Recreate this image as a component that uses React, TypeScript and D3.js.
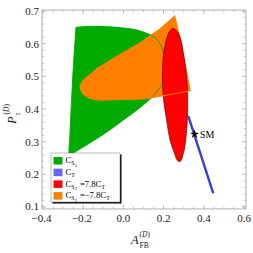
import React from 'react';
import * as d3 from 'd3';

const W = 253;
const H = 253;

const xTicks = [-0.4, -0.2, 0.0, 0.2, 0.4, 0.6];
const yTicks = [0.1, 0.2, 0.3, 0.4, 0.5, 0.6, 0.7];

// C_S2 allowed region (green), [A_FB, P_tau]
const cs2Region: [number, number][] = [
  [-0.236, 0.650], [-0.176, 0.653], [-0.116, 0.653], [-0.05, 0.651], [0.016, 0.647],
  [0.060, 0.643], [0.098, 0.636], [0.135, 0.627], [0.156, 0.619], [0.172, 0.609],
  [0.185, 0.598], [0.197, 0.581], [0.204, 0.563], [0.208, 0.545], [0.210, 0.527],
  [0.208, 0.507], [0.202, 0.489], [0.190, 0.472], [0.172, 0.458], [0.141, 0.435],
  [0.095, 0.410], [0.048, 0.388], [-0.010, 0.362], [-0.067, 0.336], [-0.125, 0.312],
  [-0.183, 0.290], [-0.257, 0.262], [-0.275, 0.235], [-0.268, 0.30], [-0.260, 0.40],
  [-0.252, 0.50], [-0.244, 0.58],
];

// C_S2 = -7.8 C_T region (orange)
const negRegion: [number, number][] = [
  [0.257, 0.688], [0.270, 0.655], [0.282, 0.621], [0.294, 0.586], [0.306, 0.550],
  [0.320, 0.503], [0.335, 0.456], [0.132, 0.433], [0.048, 0.428], [-0.116, 0.425],
  [-0.150, 0.428], [-0.172, 0.432], [-0.192, 0.440], [-0.207, 0.449], [-0.216, 0.460],
  [-0.218, 0.470], [-0.211, 0.481], [-0.198, 0.491], [-0.165, 0.508], [-0.133, 0.525],
  [-0.033, 0.563], [0.083, 0.604], [0.182, 0.647],
];

// C_S2 = 7.8 C_T region (red)
const posRegion: [number, number][] = [
  [0.248, 0.647], [0.272, 0.633], [0.289, 0.605], [0.298, 0.571], [0.309, 0.529],
  [0.318, 0.467], [0.320, 0.412], [0.318, 0.366], [0.310, 0.305], [0.299, 0.265],
  [0.282, 0.239], [0.267, 0.244], [0.252, 0.268], [0.232, 0.305], [0.215, 0.366],
  [0.200, 0.428], [0.194, 0.489], [0.197, 0.550], [0.207, 0.596], [0.219, 0.623],
  [0.232, 0.640],
];

// C_T band (blue)
const ctLine: [number, number][] = [[0.323, 0.378], [0.447, 0.142]];
const smPoint: [number, number] = [0.354, 0.323];

const legendItems = [
  { color: '#00aa00', label: 'cs2' },
  { color: '#6666ff', label: 'ct' },
  { color: '#ff0000', label: 'pos' },
  { color: '#ff8000', label: 'neg' },
];

const FONT = '"Liberation Serif", "DejaVu Serif", serif';

function Cs2({ x, y }: { x: number; y: number }) {
  return (
    <>
      <text x={x} y={y} fontSize={8.5}>C</text>
      <text x={x + 5.8} y={y + 2} fontSize={5.8}>S</text>
      <text x={x + 9.2} y={y + 3.4} fontSize={4.4}>2</text>
    </>
  );
}

function LegendLabel({ kind, x, y }: { kind: string; x: number; y: number }) {
  if (kind === 'cs2') return <Cs2 x={x} y={y} />;
  if (kind === 'ct') {
    return (
      <>
        <text x={x} y={y} fontSize={8.5}>C</text>
        <text x={x + 5.8} y={y + 2} fontSize={5.8}>T</text>
      </>
    );
  }
  const val = kind === 'pos' ? '=7.8C' : '=\u22127.8C';
  const w = kind === 'pos' ? 21.5 : 26.3;
  return (
    <>
      <Cs2 x={x} y={y} />
      <text x={x + 14.5} y={y} fontSize={8.5}>{val}</text>
      <text x={x + 14.5 + w} y={y + 2} fontSize={5.8}>T</text>
    </>
  );
}

export default function App() {
  const x = d3.scaleLinear().domain([-0.4, 0.6]).range([43, 244]);
  const y = d3.scaleLinear().domain([0.1, 0.7]).range([207, 11]);
  const x0 = x(-0.405), x1 = x(0.61);
  const y0 = y(0.094), y1 = y(0.703);

  const line = d3.line<[number, number]>().x(d => x(d[0])).y(d => y(d[1]));
  const greenPath = line.curve(d3.curveLinearClosed)(cs2Region) || '';
  const orangePath = line.curve(d3.curveLinearClosed)(negRegion) || '';
  const redPath = line.curve(d3.curveCatmullRomClosed)(posRegion) || '';
  const orangeEdge = line.curve(d3.curveLinear)(negRegion.slice(6, 9)) || '';

  const xMinor = d3.range(-0.4, 0.6001, 0.05).filter(v => !xTicks.some(t => Math.abs(t - v) < 1e-6));
  const yMinor = d3.range(0.1, 0.7001, 0.02).filter(v => !yTicks.some(t => Math.abs(t - v) < 1e-6));
  const fmt = (v: number) => d3.format('.1f')(v).replace('-', '\u2212');

  const star = d3.symbol(d3.symbolStar, 24)() || '';
  const frameColor = '#a0a0a0';

  return (
    <svg width={W} height={H} style={{ position: 'absolute', left: 0, top: 0, fontFamily: FONT }}>
      <rect width={W} height={H} fill="#fff" />
      <defs>
        <clipPath id="plot">
          <rect x={x0} y={y1} width={x1 - x0} height={y0 - y1} />
        </clipPath>
      </defs>
      <g clipPath="url(#plot)">
        <path d={greenPath} fill="#00aa00" />
        <path d={orangePath} fill="#ff8000" />
        <path d={greenPath} fill="none" stroke="#00aa00" strokeWidth={0.9} />
        <path d={redPath} fill="#ff0000" stroke="#7a0000" strokeWidth={0.7} />
        <path d={orangeEdge} fill="none" stroke="#ff8000" strokeWidth={0.9} />
        <line x1={x(ctLine[0][0])} y1={y(ctLine[0][1])} x2={x(ctLine[1][0])} y2={y(ctLine[1][1])}
          stroke="#3d3dd0" strokeWidth={2.4} />
        <path d={star} transform={`translate(${x(smPoint[0])},${y(smPoint[1])})`} fill="#000" />
        <text x={x(smPoint[0]) + 5.5} y={y(smPoint[1]) + 3.5} fontSize={10} fill="#000">SM</text>
      </g>

      {/* frame */}
      <rect x={x0} y={y1} width={x1 - x0} height={y0 - y1} fill="none" stroke={frameColor} strokeWidth={0.8} />
      {xTicks.map(t => (
        <g key={'xt' + t}>
          <line x1={x(t)} x2={x(t)} y1={y0} y2={y0 - 4} stroke={frameColor} strokeWidth={0.7} />
          <line x1={x(t)} x2={x(t)} y1={y1} y2={y1 + 4} stroke={frameColor} strokeWidth={0.7} />
          <text x={x(t) - (t < 0 ? 1.5 : 0)} y={y0 + 13} fontSize={11} textAnchor="middle" fill="#222">{fmt(t)}</text>
        </g>
      ))}
      {xMinor.map(t => (
        <g key={'xm' + t}>
          <line x1={x(t)} x2={x(t)} y1={y0} y2={y0 - 2.2} stroke={frameColor} strokeWidth={0.6} />
          <line x1={x(t)} x2={x(t)} y1={y1} y2={y1 + 2.2} stroke={frameColor} strokeWidth={0.6} />
        </g>
      ))}
      {yTicks.map(t => (
        <g key={'yt' + t}>
          <line x1={x0} x2={x0 + 4} y1={y(t)} y2={y(t)} stroke={frameColor} strokeWidth={0.7} />
          <line x1={x1} x2={x1 - 4} y1={y(t)} y2={y(t)} stroke={frameColor} strokeWidth={0.7} />
          <text x={x0 - 3} y={y(t) + (t < 0.15 ? 3 : 4)} fontSize={11} textAnchor="end" fill="#222">{fmt(t)}</text>
        </g>
      ))}
      {yMinor.map(t => (
        <g key={'ym' + t}>
          <line x1={x0} x2={x0 + 2.2} y1={y(t)} y2={y(t)} stroke={frameColor} strokeWidth={0.6} />
          <line x1={x1} x2={x1 - 2.2} y1={y(t)} y2={y(t)} stroke={frameColor} strokeWidth={0.6} />
        </g>
      ))}

      {/* axis labels */}
      <g transform="translate(139,244)" fill="#222">
        <text x={-8} y={0} fontSize={12.5} fontStyle="italic">A</text>
        <text x={0.5} y={3.5} fontSize={7.5}>FB</text>
        <text x={0.5} y={-7} fontSize={7.5}>(<tspan fontStyle="italic">D</tspan>)</text>
      </g>
      <g transform="translate(16,112) rotate(-90)" fill="#222">
        <text x={-12} y={0} fontSize={12.5} fontStyle="italic">P</text>
        <text x={-3.5} y={3.5} fontSize={7.5}>τ</text>
        <text x={-2.5} y={-7} fontSize={7.5}>(<tspan fontStyle="italic">D</tspan>)</text>
      </g>

      {/* legend */}
      <g fill="#000">
        <rect x={52.5} y={154.5} width={69} height={49} fill="#000" />
        <rect x={51} y={153} width={69} height={49} fill="#fff" stroke="#777" strokeWidth={0.5} />
        {legendItems.map((it, i) => (
          <g key={it.label}>
            <rect x={53.5} y={157 + i * 11.7} width={9} height={7.5} fill={it.color} />
            <LegendLabel kind={it.label} x={65.5} y={163.3 + i * 11.7} />
          </g>
        ))}
      </g>
    </svg>
  );
}
